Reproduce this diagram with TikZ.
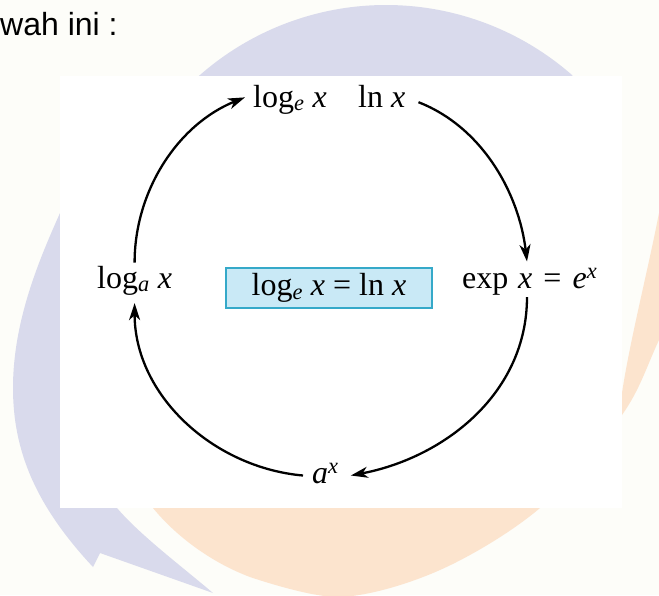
\documentclass[tikz,border=0pt]{standalone}
\usepackage{fontspec}
\setmainfont{Liberation Serif}
\newfontfamily\sansfam{Liberation Sans}
\usetikzlibrary{arrows.meta,calc}
\definecolor{bgcream}{RGB}{253,253,249}
\definecolor{lav}{RGB}{217,218,236}
\definecolor{peach}{RGB}{252,228,206}
\definecolor{boxfill}{RGB}{201,233,246}
\definecolor{boxedge}{RGB}{53,169,201}
\newcommand{\mi}[1]{\textit{#1}}
\begin{document}
\begin{tikzpicture}[x=1pt,y=-1pt,
  lbl/.style={inner sep=0pt, font=\fontsize{32}{38}\selectfont, anchor=base west},
  conn/.style={line width=2.3pt, -{Stealth[length=17pt,width=11pt,inset=5pt]}}]
\useasboundingbox (0,0) rectangle (659,595);
\fill[bgcream] (0,0) rectangle (659,595);
\begin{scope}
\clip (0,0) rectangle (659,595);
% lavender crescent with tail
\fill[lav] (600,130) -- (572,75)
  .. controls (520.5,29.9) and (454.5,5) .. (386,5)
  .. controls (317.5,5) and (251.5,29.9) .. (200,75)
  .. controls (160,110) and (80,168) .. (60,213)
  .. controls (40,258) and (13,320) .. (13,388)
  .. controls (13,450) and (35,505) .. (93,567)
  -- (100,553) -- (213,593)
  .. controls (180,565) and (140,535) .. (117,508)
  -- (117,480) -- (100,250) -- (200,110) -- (400,90) -- cycle;
% peach crescent
\fill[peach] (700,150) -- (672,150) -- (659,213)
  .. controls (648,270) and (630,340) .. (622,393)
  -- (612,420) -- (500,480) -- (300,495) -- (160,500) -- (153,508)
  .. controls (175,535) and (210,562) .. (250,577)
  -- plot[smooth, tension=0.55] coordinates {(250,577) (340,597) (440,570) (540,508) (622,415) (659,340) (700,250)}
  -- cycle;
\end{scope}
\fill[white] (60,76) rectangle (622,508);
\node[anchor=base west, inner sep=0pt, font=\sansfam\fontsize{32}{38}\selectfont] (intro) at (0,35) {wah ini :};
\node[lbl] (logE) at (253,107) {log\textsubscript{\mi{e}} \mi{x}};
\node[lbl] (lnx) at (358,107) {ln \mi{x}};
\node[lbl] (logA) at (97,288) {log\textsubscript{\mi{a}} \mi{x}};
\node[lbl] (expx) at (462,288) {exp\hspace{0.3em}\mi{x}\hspace{0.35em}=\hspace{0.35em}\mi{e}\textsuperscript{\mi{x}}};
\node[lbl] (aX) at (312,483) {\mi{a}\textsuperscript{\mi{x}}};
\node[draw=boxedge, fill=boxfill, line width=1.3pt, minimum width=206pt, minimum height=40pt, inner sep=0pt, font=\fontsize{32}{38}\selectfont] (eqbox) at (329,288) {log\textsubscript{\mi{e}} \mi{x} = ln \mi{x}};
\draw[conn] ($(logA.north)+(0,-3)$) .. controls +(0,-72) and +(-67,27) .. ($(logE.west)+(-8,-2)$);
\draw[conn] ($(lnx.south east)+(13,-5)$) .. controls +(64,25) and +(-8,-68) .. ($(expx.north west)+(65,-7)$);
\draw[conn] ($(expx.south west)+(65,2)$) .. controls +(0,96) and +(94,-18) .. ($(aX.east)+(12,2)$);
\draw[conn] ($(aX.west)+(-9,2)$) .. controls +(-90,-8) and +(0,92) .. ($(logA.south)+(0,8)$);
\end{tikzpicture}
\end{document}
